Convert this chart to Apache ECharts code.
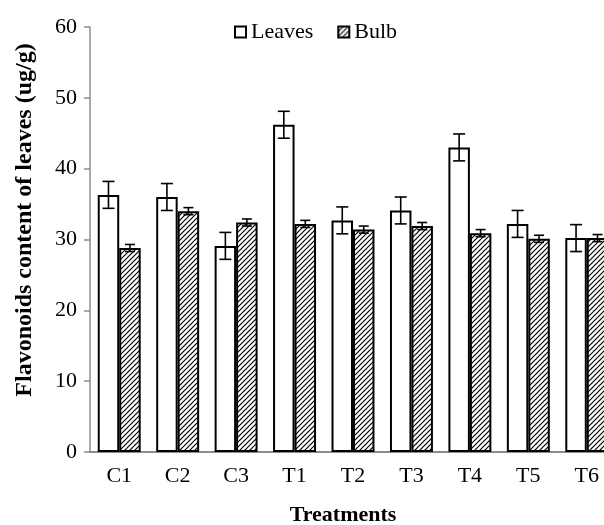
<!DOCTYPE html>
<html>
<head>
<meta charset="utf-8">
<script src="https://cdn.jsdelivr.net/npm/echarts@6/dist/echarts.min.js"></script>
<style>
html,body{margin:0;padding:0;background:#fff;}
#chart{width:604px;height:525px;}
</style>
</head>
<body>
<div id="chart"></div>
<script>
const categories = ['C1','C2','C3','T1','T2','T3','T4','T5','T6'];
const leaves = [36.3, 36.0, 29.1, 46.2, 32.7, 34.1, 43.0, 32.2, 30.2];
const leavesErr = [1.9, 1.9, 1.9, 1.9, 1.9, 1.9, 1.9, 1.9, 1.9];
const bulb = [28.8, 34.0, 32.4, 32.2, 31.4, 31.9, 30.9, 30.1, 30.2];
const bulbErr = [0.5, 0.5, 0.5, 0.5, 0.5, 0.5, 0.5, 0.5, 0.5];
const yTicks = [0, 10, 20, 30, 40, 50, 60];

const FONT = '"Liberation Serif", "Times New Roman", serif';
const CAT_GAP = 0.265;

function makeHatch() {
  const s = 5;
  const c = document.createElement('canvas');
  c.width = s; c.height = s;
  const ctx = c.getContext('2d');
  ctx.fillStyle = '#fff';
  ctx.fillRect(0, 0, s, s);
  ctx.strokeStyle = '#000';
  ctx.lineWidth = 1.2;
  ctx.beginPath();
  ctx.moveTo(0, s); ctx.lineTo(s, 0);
  ctx.moveTo(-1, 1); ctx.lineTo(1, -1);
  ctx.moveTo(s - 1, s + 1); ctx.lineTo(s + 1, s - 1);
  ctx.stroke();
  return c;
}
const hatch = makeHatch();

function errSeries(vals, errs, side, cap) {
  return {
    type: 'custom',
    coordinateSystem: 'cartesian2d',
    z: 10,
    silent: true,
    data: vals.map((v, i) => [i, v, errs[i]]),
    encode: { x: 0, y: 1 },
    renderItem: function (params, api) {
      const x = api.value(0), v = api.value(1), e = api.value(2);
      const band = api.size([1, 0])[0];
      const barW = band * (1 - CAT_GAP) / 2;
      const base = api.coord([x, v]);
      const cx = base[0] + side * barW / 2;
      const hi = api.coord([x, v + e])[1];
      const lo = api.coord([x, v - e])[1];
      const st = { stroke: '#000', lineWidth: 1.6 };
      return {
        type: 'group',
        children: [
          { type: 'line', shape: { x1: cx, y1: hi, x2: cx, y2: lo }, style: st },
          { type: 'line', shape: { x1: cx - cap / 2, y1: hi, x2: cx + cap / 2, y2: hi }, style: st },
          { type: 'line', shape: { x1: cx - cap / 2, y1: lo, x2: cx + cap / 2, y2: lo }, style: st }
        ]
      };
    }
  };
}

const chart = echarts.init(document.getElementById('chart'), null, { renderer: 'canvas' });
chart.setOption({
  animation: false,
  backgroundColor: '#fff',
  textStyle: { fontFamily: FONT },
  grid: { left: 90, top: 27, width: 526, height: 425, containLabel: false, outerBoundsMode: 'none' },
  legend: {
    data: ['Leaves', 'Bulb'],
    left: 229, top: 16,
    icon: 'rect', itemWidth: 11, itemHeight: 11, itemGap: 24,
    textStyle: { fontFamily: FONT, fontSize: 22, color: '#000' }
  },
  xAxis: {
    type: 'category',
    data: categories,
    axisLine: { lineStyle: { color: '#8c8c8c', width: 2 } },
    axisTick: { show: false },
    axisLabel: { fontFamily: FONT, fontSize: 22, color: '#000', margin: 13 }
  },
  yAxis: {
    type: 'value',
    min: yTicks[0], max: yTicks[yTicks.length - 1], interval: 10,
    axisLine: { show: true, lineStyle: { color: '#8c8c8c', width: 1.5 } },
    axisTick: { show: true, length: 6, lineStyle: { color: '#8c8c8c', width: 1.5 } },
    splitLine: { show: false },
    axisLabel: { fontFamily: FONT, fontSize: 22, color: '#000', margin: 13 }
  },
  graphic: [
    {
      type: 'text', x: 25, y: 220, rotation: Math.PI / 2,
      style: { text: 'Flavonoids content of leaves (ug/g)', font: 'bold 24px ' + FONT, fill: '#000', align: 'center', verticalAlign: 'middle' }
    },
    {
      type: 'text', x: 343, y: 515,
      style: { text: 'Treatments', font: 'bold 22px ' + FONT, fill: '#000', align: 'center', verticalAlign: 'middle' }
    }
  ],
  series: [
    {
      name: 'Leaves', type: 'bar', data: leaves,
      barGap: '0%', barCategoryGap: (CAT_GAP * 100) + '%',
      itemStyle: { color: '#fff', borderColor: '#000', borderWidth: 2 }
    },
    {
      name: 'Bulb', type: 'bar', data: bulb,
      itemStyle: { color: { image: hatch, repeat: 'repeat' }, borderColor: '#000', borderWidth: 2 }
    },
    errSeries(leaves, leavesErr, -1, 12),
    errSeries(bulb, bulbErr, 1, 10)
  ]
});
</script>
</body>
</html>
